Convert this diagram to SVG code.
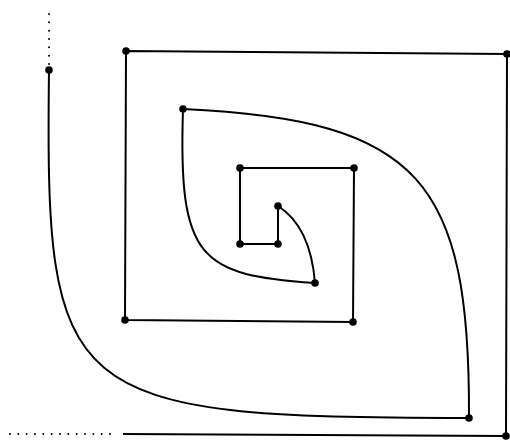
<svg xmlns="http://www.w3.org/2000/svg" width="510" height="440" viewBox="0 0 510 440">
<style>
.ln{fill:none;stroke:#000;stroke-width:2;stroke-linejoin:round}
.dot{fill:none;stroke:#000;stroke-width:2;stroke-linecap:round;stroke-dasharray:0 8.33}
.n{fill:#000}
</style>
<rect width="510" height="440" fill="#fff"/>
<g id="connectors">
<path class="dot" d="M49,14 L49,66"/>
<path class="dot" d="M10,434 L118,434"/>
<path class="ln" d="M123,434 L506,436 L507,54 L126,51 L125,320 L353,322 L354,168 L240,168 L240,244 L278,244 L278,206"/>
<path class="ln" d="M49,70 C45,400 60,418 469,418"/>
<path class="ln" d="M183,109 C420,120 470,180 469,418"/>
<path class="ln" d="M183,109 C178,260 200,275 315,283"/>
<path class="ln" d="M278,206 C300,220 312,245 315,283"/>
</g>
<g id="n1"><circle class="n" cx="49" cy="70" r="3.8"/></g>
<g id="n2"><circle class="n" cx="126" cy="51" r="3.8"/></g>
<g id="n3"><circle class="n" cx="507" cy="54" r="3.8"/></g>
<g id="n4"><circle class="n" cx="506" cy="436" r="3.8"/></g>
<g id="n5"><circle class="n" cx="469" cy="418" r="3.8"/></g>
<g id="n6"><circle class="n" cx="125" cy="320" r="3.8"/></g>
<g id="n7"><circle class="n" cx="353" cy="322" r="3.8"/></g>
<g id="n8"><circle class="n" cx="183" cy="109" r="3.8"/></g>
<g id="n9"><circle class="n" cx="240" cy="168" r="3.8"/></g>
<g id="n10"><circle class="n" cx="354" cy="168" r="3.8"/></g>
<g id="n11"><circle class="n" cx="240" cy="244" r="3.8"/></g>
<g id="n12"><circle class="n" cx="278" cy="244" r="3.8"/></g>
<g id="n13"><circle class="n" cx="278" cy="206" r="3.8"/></g>
<g id="n14"><circle class="n" cx="315" cy="283" r="3.8"/></g>
</svg>
